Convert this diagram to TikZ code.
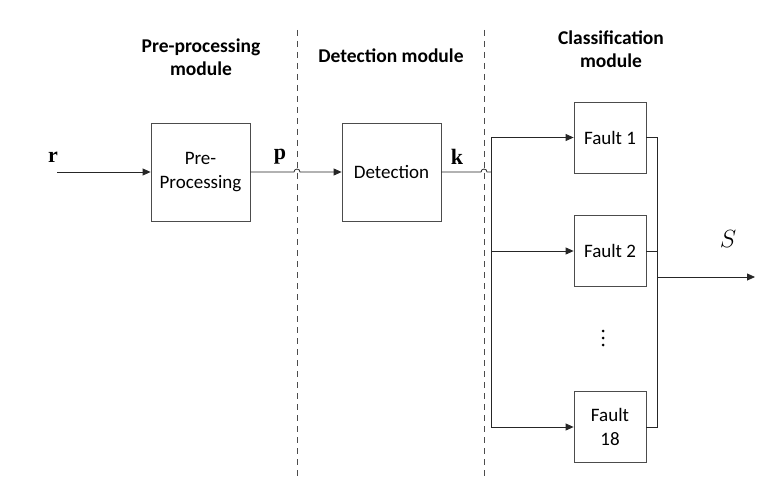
\documentclass[tikz,border=0pt]{standalone}
\usepackage{fontspec}
\setmainfont{Carlito}
\newfontfamily\tnr{Liberation Serif}
\usetikzlibrary{arrows.meta}
\begin{document}
\begin{tikzpicture}[x=1pt,y=-1pt,
  blk/.style={draw=black!70, line width=0.8pt, align=center, inner sep=0pt,
    font=\fontsize{19}{24}\selectfont},
  bigblk/.style={blk, minimum width=99pt, minimum height=98pt},
  fltblk/.style={blk, minimum width=72pt, minimum height=71pt},
  conn/.style={draw=black!85, line width=0.8pt},
  arr/.style={conn, -{Triangle[length=8pt,width=7pt]}},
  sep/.style={draw=black!70, line width=0.8pt, dash pattern=on 6pt off 5pt},
  hdr/.style={align=center, font=\fontsize{19.5}{23}\selectfont\bfseries},
  sig/.style={font=\fontsize{22}{22}\selectfont\tnr\bfseries},
  dot/.style={fill=black, circle, inner sep=0pt, minimum size=3pt}]
\useasboundingbox (0,0) rectangle (773,497);
% separators
\coordinate (s1t) at (297,30); \coordinate (s1b) at (297,480);
\coordinate (s2t) at (484,30); \coordinate (s2b) at (484,480);
\draw[sep] (s1t) -- (s1b);
\draw[sep] (s2t) -- (s2b);
% headers
\node[hdr] (h1) at (201,57) {Pre-processing\\module};
\node[hdr] (h2) at (391,56) {Detection module};
\node[hdr] (h3) at (611,49) {Classification\\module};
% blocks
\node[bigblk] (pre) at (200.5,172) {Pre-\\Processing};
\node[bigblk] (det) at (391.5,172) {Detection};
\node[fltblk] (f1) at (610,137.5) {Fault 1};
\node[fltblk] (f2) at (610,251) {Fault 2};
\node[fltblk] (f18) at (610,427) {Fault\\18};
\node[dot] (d1) at (603,331) {};
\node[dot] (d2) at (603,338) {};
\node[dot] (d3) at (603,345) {};
% signal labels
\node[sig] (rl) at (53,157) {r};
\node[sig] (pl) at (280,157) {p};
\node[sig] (kl) at (457,157) {k};
\node (sl) at (728,239) {\fontsize{23}{23}\selectfont$S$};
% connectors
\coordinate (rin) at (57,172);
\draw[arr] (rin) -- (pre.west);
\coordinate (hop1) at (297,172);
\draw[arr] (pre.east) -- ([xshift=-3pt]hop1) arc[start angle=180,end angle=0,radius=3pt] -- (det.west);
\coordinate (hop2) at (484,172);
\coordinate (split) at (491,172);
\draw[conn] (det.east) -- ([xshift=-3pt]hop2) arc[start angle=180,end angle=0,radius=3pt] -- (split);
\draw[conn] (split |- f1.west) -- (split |- f18.west);
\draw[arr] (split |- f1.west) -- (f1.west);
\draw[arr] (split |- f2.west) -- (f2.west);
\draw[arr] (split |- f18.west) -- (f18.west);
\coordinate (jt) at (657,137.5);
\coordinate (jb) at (657,427);
\draw[conn] (f1.east) -- (jt) -- (jb) -- (f18.east);
\draw[conn] (f2.east) -- (jt |- f2.east);
\coordinate (jo) at (657,277);
\coordinate (out) at (755,277);
\draw[arr] (jo) -- (out);
\end{tikzpicture}
\end{document}
